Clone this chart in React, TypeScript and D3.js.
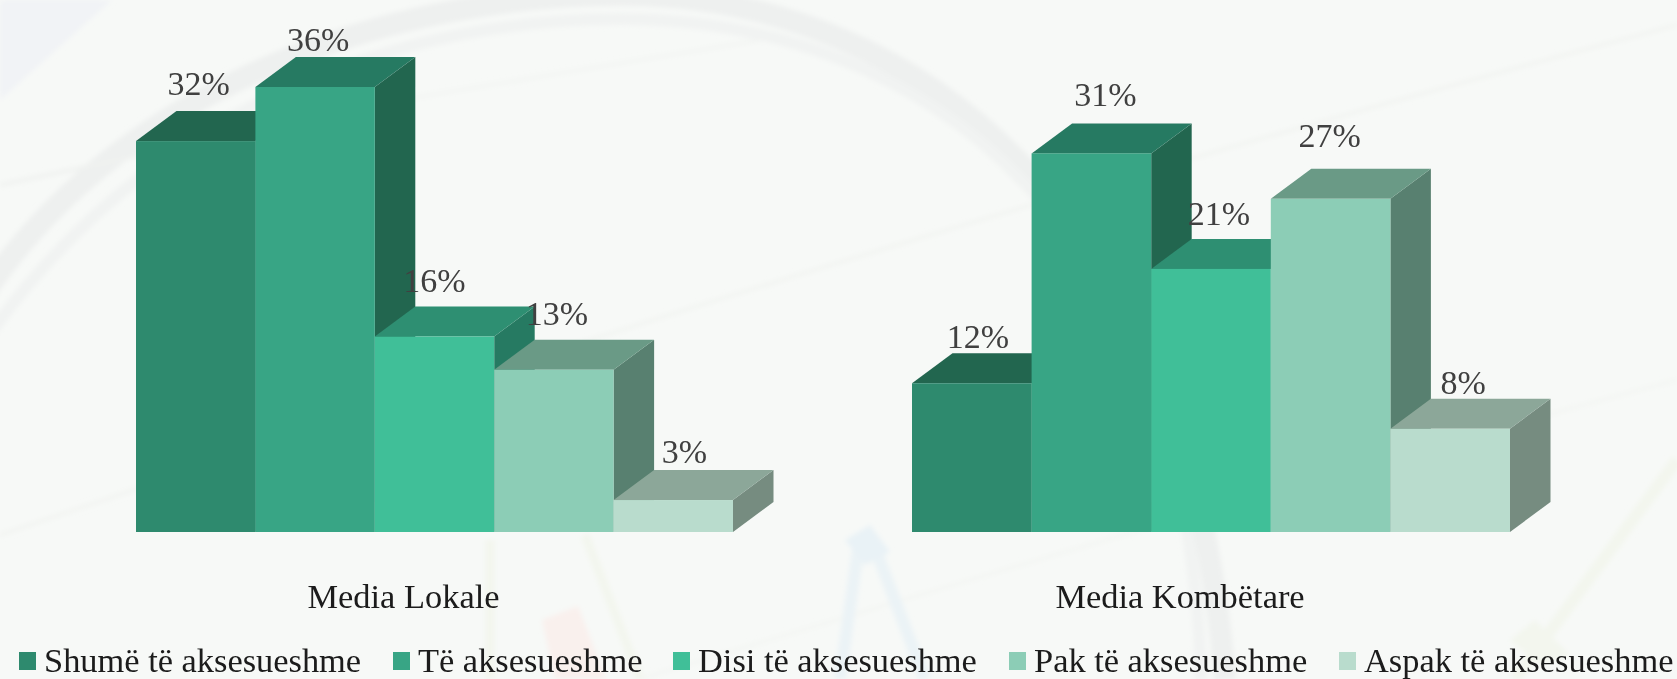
import React from "react";
import * as d3 from "d3";

const groups = ["Media Lokale", "Media Kombëtare"];
const levels = ["Shumë të aksesueshme", "Të aksesueshme", "Disi të aksesueshme", "Pak të aksesueshme", "Aspak të aksesueshme"];
const lokaleValues = [31.8, 36.2, 15.9, 13.2, 2.6];
const kombetareValues = [12.1, 30.8, 21.4, 27.1, 8.4];
const frontColors = ["#2d8a6e", "#38a585", "#41bf98", "#8ccdb6", "#b9dccd"];
const topColors = ["#236650", "#287a62", "#2f8f72", "#6a9a86", "#8ca799"];
const sideColors = ["#236650", "#236650", "#287a62", "#58806f", "#768c80"];
const labelNudge = [
  [[3, 16], [3, 6], [0, 15], [3, 15], [11, 7]],
  [[6, 5], [14, 17], [8, 14], [-1, 22], [13, 5]],
];
const legendX = [19, 393, 673, 1009, 1339];

const W = 1677, H = 679, BASE = 532, DX = 40.5, DY = 30;
const y = d3.scaleLinear().domain([0, 36.2]).range([BASE, 87]);
const bandOuter = [d3.scaleBand<number>().domain(d3.range(5)).range([136, 733]), d3.scaleBand<number>().domain(d3.range(5)).range([912, 1510])];
const series = [lokaleValues, kombetareValues];
const poly = (pts: number[][]) => (d3.line()(pts as [number, number][]) as string) + "Z";

function Background() {
  const arc = (o: number) => {
    const p = d3.path();
    p.moveTo(-20, 300 + o * 2);
    p.bezierCurveTo(130 + o, 70 + o, 420, -5 + o, 620, -5 + o);
    p.bezierCurveTo(930, -5 + o, 1190, 230, 1225 - o, 680);
    return p.toString();
  };
  return (
    <g fill="none">
      <defs>
        <filter id="bgBlur" x="-5%" y="-5%" width="110%" height="110%"><feGaussianBlur stdDeviation="2.5" /></filter>
      </defs>
      <rect width={W} height={H} fill="#f7f9f7" />
      <g filter="url(#bgBlur)">
        <path d="M0 0 L112 0 L0 100Z" fill="#f1f3f6" />
        <path d={arc(0)} stroke="#eef0ef" strokeWidth={22} />
        <path d={arc(24)} stroke="#f1f3f2" strokeWidth={12} />
        <path d="M0 185 L260 130" stroke="#f0f2f0" strokeWidth={4} />
        <path d="M400 100 L760 40" stroke="#f2f4f2" strokeWidth={3} />
        <path d="M0 535 C400 400 900 230 1677 25" stroke="#f1f3f0" strokeWidth={3} />
        <path d="M640 679 C900 600 1300 480 1677 380" stroke="#f3f5f2" strokeWidth={3} />
        <path d="M490 679 L490 540" stroke="#f3f6ee" strokeWidth={9} />
        <path d="M585 535 L640 679" stroke="#f3f6ee" strokeWidth={9} />
        <path d="M860 535 L840 679 M870 535 L925 679" stroke="#ebf3f6" strokeWidth={12} />
        <path d="M845 540 L870 525 L890 552 L865 565Z" fill="#e9f2f6" />
        <path d="M542 620 L578 606 L606 679 L555 679Z" fill="#f9f0ed" />
        <path d="M1515 679 L1677 460" stroke="#f3f6ee" strokeWidth={12} />
        <path d="M1510 640 L1535 620 L1570 655 L1540 665Z" fill="#f3f6ee" />
      </g>
    </g>
  );
}

export default function App() {
  return (
    <svg width={W} height={H} style={{ position: "fixed", left: 0, top: 0, display: "block" }} fontFamily="'Liberation Serif', serif">
      <defs>
        <filter id="soft" x="-5%" y="-5%" width="110%" height="110%"><feGaussianBlur stdDeviation="0.45" /></filter>
      </defs>
      <Background />
      <g filter="url(#soft)">
        {series.map((vals, g) => {
          const x = bandOuter[g];
          const bw = x.bandwidth();
          return (
            <g key={groups[g]}>
              {vals.map((v, i) => {
                const l = x(i)!, r = l + bw, t = y(v);
                return (
                  <g key={i}>
                    <path d={poly([[r, BASE], [r + DX, BASE - DY], [r + DX, t - DY], [r, t]])} fill={sideColors[i]} />
                    <path d={poly([[l, t], [l + DX, t - DY], [r + DX, t - DY], [r, t]])} fill={topColors[i]} />
                    <rect x={l} y={t} width={bw} height={BASE - t} fill={frontColors[i]} />
                  </g>
                );
              })}
              {vals.map((v, i) => (
                <text key={i} x={x(i)! + bw / 2 + labelNudge[g][i][0]} y={y(v) - DY - labelNudge[g][i][1]} textAnchor="middle" fontSize={34} fill="#404040">
                  {Math.round(v)}%
                </text>
              ))}
              <text x={(x.range()[0] + x.range()[1]) / 2 - 31} y={608} textAnchor="middle" fontSize={34.4} fill="#1a1a1a">{groups[g]}</text>
            </g>
          );
        })}
        {levels.map((name, i) => (
          <g key={name}>
            <rect x={legendX[i]} y={652} width={17} height={18} fill={frontColors[i]} />
            <text x={legendX[i] + 25} y={672} fontSize={34.4} fill="#1a1a1a">{name}</text>
          </g>
        ))}
      </g>
    </svg>
  );
}
